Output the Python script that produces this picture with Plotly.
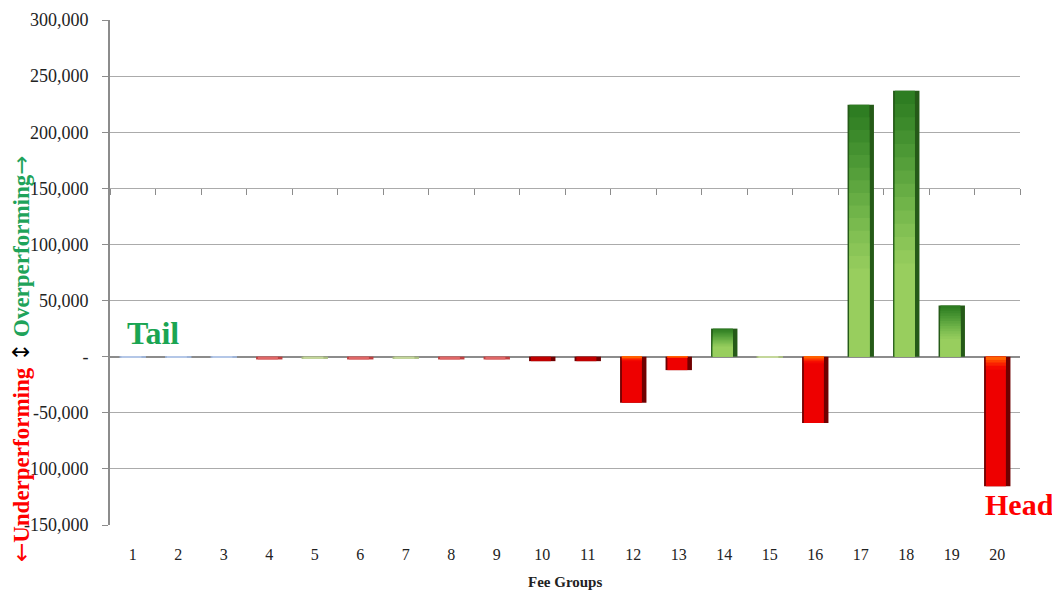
import plotly.graph_objects as go

# Fee group performance
groups = [str(i) for i in range(1, 21)]
values = [-1000, -1000, -1000, -2500, -2000, -2500, -2000, -2500, -2500, -4000,
          -4000, -41000, -12000, 25000, -1000, -59000, 224500, 237000, 45500, -115500]
main_colors = ["#b4c7e7", "#b4c7e7", "#b4c7e7", "#e06666", "#c4d79b", "#e06666", "#c4d79b",
               "#e06666", "#e06666", "#c00000", "#c00000", "#ee0000", "#ee0000", "#2e7d22",
               "#c4d79b", "#ee0000", "#2e7d22", "#2e7d22", "#2e7d22", "#ee0000"]
edge_colors = ["#9fb4d6", "#9fb4d6", "#9fb4d6", "#c04040", "#aabf80", "#c04040", "#aabf80",
               "#c04040", "#c04040", "#700000", "#700000", "#700000", "#700000", "#255a18",
               "#aabf80", "#700000", "#255a18", "#255a18", "#255a18", "#700000"]

y_ticks = [-150000, -100000, -50000, 0, 50000, 100000, 150000, 200000, 250000, 300000]
y_text = ["-150,000", "-100,000", "-50,000", "-", "50,000", "100,000", "150,000",
          "200,000", "250,000", "300,000"]

# shading steps for the gradient look of the big bars
green_steps = [(0.95, "#358326"), (0.90, "#3c8a2b"), (0.85, "#449130"), (0.80, "#4c9835"),
               (0.75, "#559f3a"), (0.70, "#5ea63f"), (0.65, "#67ad44"), (0.60, "#70b449"),
               (0.55, "#79ba4e"), (0.50, "#82c053"), (0.45, "#8ac557"), (0.40, "#92ca5b"),
               (0.35, "#98ce5e")]
red_steps = [(0.10, "#f40800"), (0.07, "#fa2000"), (0.045, "#ff4000"), (0.025, "#ff6000")]

serif = "Liberation Serif"
arrow_font = "font-family:'DejaVu Sans';font-weight:normal"

fig = go.Figure()

# outer bar (dark edge)
fig.add_trace(go.Bar(x=groups, y=values, width=0.58, marker=dict(color=edge_colors, line_width=0),
                     hoverinfo="skip", showlegend=False))
# inner bar
fig.add_trace(go.Bar(x=groups, y=values, width=0.44, offset=-0.25,
                     marker=dict(color=main_colors, line_width=0), showlegend=False,
                     hovertemplate="Group %{x}: %{y:,.0f}<extra></extra>"))
for frac, col in green_steps:
    fig.add_trace(go.Bar(x=groups, y=[v * frac if v > 10000 else None for v in values],
                         width=0.44, offset=-0.25, marker=dict(color=col, line_width=0),
                         hoverinfo="skip", showlegend=False))
for frac, col in red_steps:
    fig.add_trace(go.Bar(x=groups, y=[v * frac if v < -10000 else None for v in values],
                         width=0.44, offset=-0.25, marker=dict(color=col, line_width=0),
                         hoverinfo="skip", showlegend=False))

# category separators: tick marks hanging from the zero line
n = len(groups)
fig.add_trace(go.Scatter(x=[0.5, n + 0.5], y=[0, 0], xaxis="x2", mode="lines",
                         line=dict(width=0, color="rgba(0,0,0,0)"),
                         hoverinfo="skip", showlegend=False))

fig.update_layout(
    width=1052, height=583,
    barmode="overlay",
    plot_bgcolor="white", paper_bgcolor="white",
    margin=dict(l=102, r=40, t=12, b=66),
    font=dict(family=serif, size=16, color="#222222"),
    xaxis=dict(
        type="category", range=[-0.5, 19.5], showgrid=False, showline=False,
        ticks="", tickfont=dict(family=serif, size=16), ticklabelstandoff=18,
        automargin=False,
    ),
    xaxis2=dict(
        overlaying="x", anchor="free", position=300 / 450, side="bottom",
        range=[0.5, n + 0.5], tickvals=[i + 0.5 for i in range(n + 1)],
        ticks="outside", ticklen=6, tickcolor="#8c8c8c", tickwidth=1,
        showticklabels=False, showgrid=False, showline=False, zeroline=False,
        automargin=False,
    ),
    yaxis=dict(
        range=[-150000, 300000], tickvals=y_ticks, ticktext=y_text,
        showgrid=True, gridcolor="#ababab", gridwidth=1,
        zeroline=True, zerolinecolor="#8c8c8c", zerolinewidth=2,
        showline=True, linecolor="#8c8c8c", linewidth=2,
        ticks="outside", ticklen=6, tickcolor="#8c8c8c", ticklabelstandoff=10,
        tickfont=dict(family=serif, size=18), fixedrange=True, automargin=False,
    ),
)

fig.add_annotation(text="<b>Fee Groups</b>", xref="paper", yref="paper", x=0.5, y=0,
                   yshift=-57, yanchor="middle", showarrow=False,
                   font=dict(family=serif, size=15, color="#222222"))
fig.add_annotation(
    text=f"<b><span style=\"color:#ff0000\"><span style=\"{arrow_font}\">←</span>Underperforming</span> "
         f"<span style=\"color:#000000;{arrow_font}\">↕</span> "
         f"<span style=\"color:#1fa35a\">Overperforming<span style=\"{arrow_font}\">→</span></span></b>",
    textangle=-90, xref="paper", yref="paper", x=-0.097, y=0.33,
    showarrow=False, font=dict(family=serif, size=23), xanchor="center", yanchor="middle",
)
fig.add_annotation(text="<b>Tail</b>", xref="x", yref="y", x=0, y=0, yanchor="bottom",
                   yshift=4, xshift=20, showarrow=False,
                   font=dict(family=serif, size=32, color="#1aa553"))
fig.add_annotation(text="<b>Head</b>", xref="x", yref="y", x=19, y=-115500, yanchor="top",
                   yshift=0, xshift=22, showarrow=False,
                   font=dict(family=serif, size=30, color="#ff0000"))

fig.write_html("out.html")
